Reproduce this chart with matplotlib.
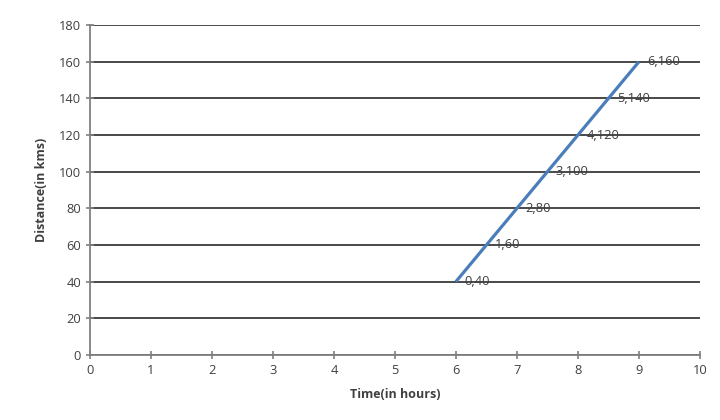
import matplotlib.pyplot as plt

# data
time_hours = [6, 6.5, 7, 7.5, 8, 8.5, 9]
distance_km = [40, 60, 80, 100, 120, 140, 160]
point_labels = ['0,40', '1,60', '2,80', '3,100', '4,120', '5,140', '6,160']

plt.rcParams['font.family'] = ['Open Sans', 'DejaVu Sans']

fig = plt.figure(figsize=(7.2, 4.2), dpi=100)
ax = fig.add_axes([0.125, 0.155, 0.847, 0.785])

ax.plot(time_hours, distance_km, color='#4a7ebb', linewidth=2.3, solid_capstyle='butt', zorder=3)
for x, y, lab in zip(time_hours, distance_km, point_labels):
    ax.annotate(lab, (x, y), xytext=(6, 0), textcoords='offset points',
                ha='left', va='center', fontsize=9.3, color='#404040', zorder=4)

ax.set_xlim(0, 10)
ax.set_ylim(0, 180)
ax.set_xticks(range(0, 11))
ax.set_yticks(range(0, 181, 20))
ax.grid(axis='y', color='#3a3a3a', linewidth=1.3, zorder=1)
ax.set_axisbelow(True)

for s in ['top', 'right']:
    ax.spines[s].set_visible(False)
for s in ['left', 'bottom']:
    ax.spines[s].set_color('#808080')
    ax.spines[s].set_linewidth(1.3)
ax.tick_params(direction='inout', length=6, width=1.2, color='#808080',
               labelsize=9.3, labelcolor='#404040')

ax.set_xlabel('Time(in hours)', fontsize=9, fontweight='bold', color='#404040', labelpad=8)
ax.set_ylabel('Distance(in kms)', fontsize=9, fontweight='bold', color='#404040', labelpad=8)

plt.savefig('out.png', dpi=100)
